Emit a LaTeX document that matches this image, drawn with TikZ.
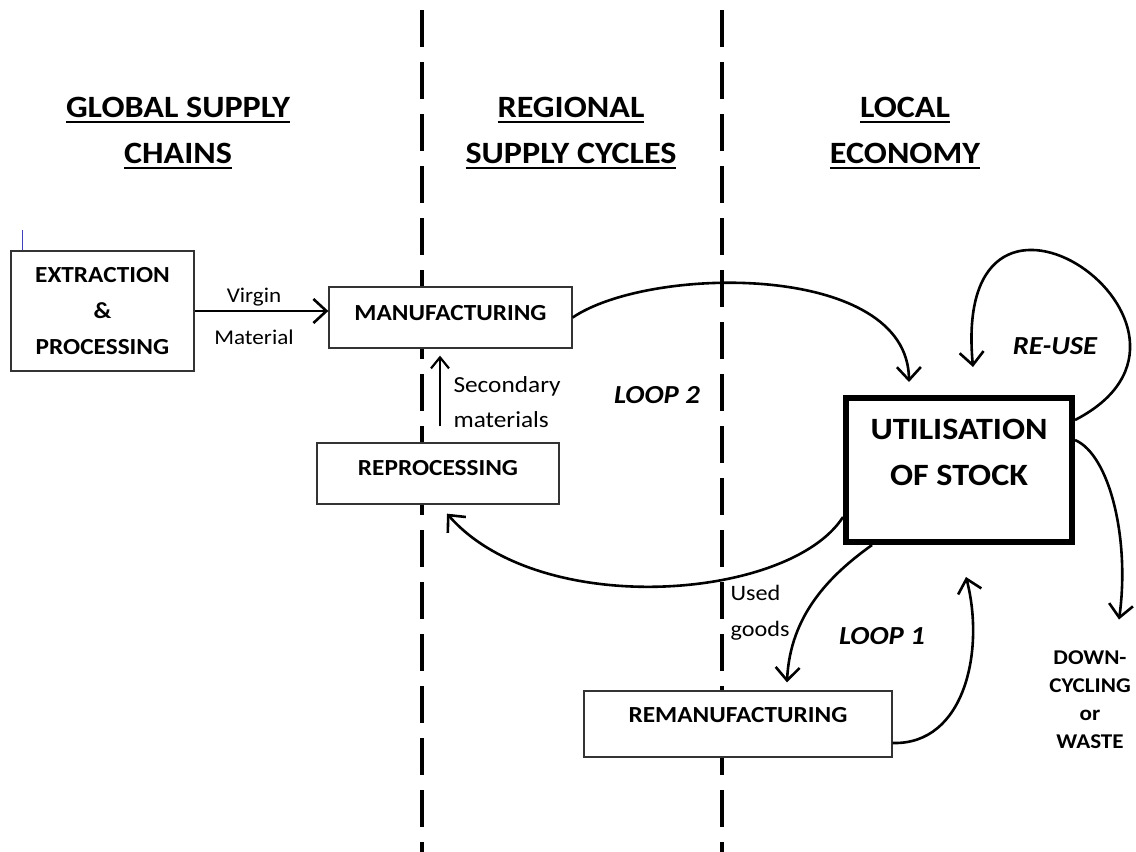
\documentclass[tikz,border=0pt]{standalone}
\usepackage{fontspec}
\setmainfont{Carlito}[FakeStretch=1.1]
\usetikzlibrary{arrows.meta, positioning}

% underlined heading line
\newcommand{\uhead}[1]{\setbox0\hbox{#1}\rlap{\rule[-6pt]{\wd0}{2.5pt}}\box0}

\begin{document}
\begin{tikzpicture}[
  x=1pt, y=-1pt,
  box/.style={rectangle, draw=black!80, line width=1.3pt, fill=white, inner sep=0pt, align=center,
    font=\fontsize{23}{36}\selectfont\bfseries},
  stock/.style={box, draw=black, line width=6pt, font=\fontsize{31}{46}\selectfont\bfseries},
  heading/.style={align=center, font=\fontsize{31}{46}\selectfont\bfseries},
  flow/.style={-{Straight Barb[length=13pt, width=24pt]}, line width=2.6pt},
  note/.style={align=left, font=\fontsize{23}{35}\selectfont},
  looplabel/.style={font=\fontsize{26}{30}\selectfont\bfseries\itshape},
  divider/.style={line width=4pt, dash pattern=on 37pt off 15pt}
]
  \fill[white] (0,0) rectangle (1136,852);
  \useasboundingbox (0,0) rectangle (1136,852);

  % column headings
  \node[heading] (global) at (178,133) {\uhead{GLOBAL SUPPLY}\\\uhead{CHAINS}};
  \node[heading] (regional) at (571,133) {\uhead{REGIONAL}\\\uhead{SUPPLY CYCLES}};
  \node[heading] (local) at (905,133) {\uhead{LOCAL}\\\uhead{ECONOMY}};

  % borders between the columns
  \draw[divider] (422,10) -- (422,852);
  \draw[divider] (722,10) -- (722,852);

  % boxes
  \node[box, minimum width=183pt, minimum height=120pt] (extract) at (102.5,311) {EXTRACTION\\\&\\PROCESSING};
  \node[box, minimum width=243pt, minimum height=61pt, text depth=10pt] (manu) at (450.5,317.5) {MANUFACTURING};
  \node[box, minimum width=242pt, minimum height=61pt, text depth=11pt] (repro) at (438,473.5) {REPROCESSING};
  \node[box, minimum width=308pt, minimum height=66pt, text depth=18pt] (reman) at (738,724) {REMANUFACTURING};
  \node[stock, minimum width=226pt, minimum height=144pt, text depth=36pt] (util) at (959,470) {UTILISATION\\OF STOCK};
  \draw[blue!50!gray, line width=0.8pt] ([xshift=12pt]extract.north west) -- ++(0,-20);

  % labels
  \node[note, align=center, font=\fontsize{21}{42}\selectfont] (virgin) at (254,316) {Virgin\\Material};
  \node[note, anchor=west] (secondary) at (450,402) {Secondary\\materials};
  \node[note, anchor=west, font=\fontsize{22}{36}\selectfont] (used) at (727,613) {Used\\goods};
  \node[looplabel] (loop2) at (657,395) {LOOP 2};
  \node[looplabel] (loop1) at (882,636) {LOOP 1};
  \node[looplabel] (reuse) at (1055,346) {RE-USE};
  \node[align=center, font=\fontsize{21}{28}\selectfont\bfseries] (down) at (1090,700) {DOWN-\\CYCLING\\or\\WASTE};

  % flows
  \draw[flow] (extract.east) -- (extract.east -| manu.west);
  \draw[flow, line width=2.2pt, -{Straight Barb[length=11pt, width=18pt]}]
    ([xshift=2pt,yshift=16pt]repro.north) -- ([xshift=2pt,yshift=-7pt]repro.north |- manu.south);
  \draw[flow] (manu.east) .. controls (650,265) and (908,262) .. ([xshift=-50pt,yshift=13pt]util.north);
  \draw[flow] ([yshift=-25pt]util.north east) .. controls (1250,330) and (950,120) .. ([xshift=14pt,yshift=28pt]util.north);
  \draw[flow] ([yshift=-47pt]util.west) .. controls (790,600) and (540,620) .. ([xshift=9pt,yshift=-9pt]repro.south);
  \draw[flow] ([xshift=-87pt]util.south) .. controls (830,575) and (790,615) .. ([xshift=49pt,yshift=8pt]reman.north);
  \draw[flow] ([yshift=-19pt]reman.east) .. controls (965,745) and (985,650) .. ([xshift=7pt,yshift=-32pt]util.south);
  \draw[flow] ([yshift=-45pt]util.north east) .. controls (1110,455) and (1130,540) .. ([xshift=29pt,yshift=28pt]down.north);
\end{tikzpicture}
\end{document}
